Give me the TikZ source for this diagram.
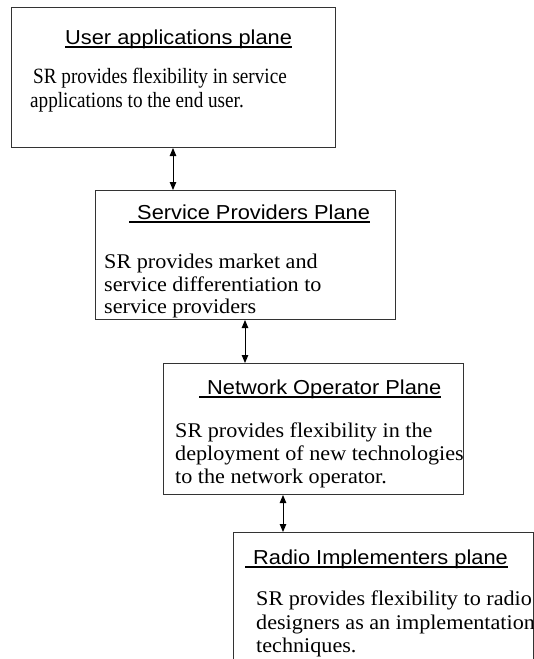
\documentclass[tikz,border=0pt]{standalone}
\usepackage{fontspec}
\setmainfont{Liberation Serif}
\newfontfamily\headfont[FakeStretch=1.08]{Liberation Sans}
\newfontfamily\bodyfont[FakeStretch=1.06]{Liberation Serif}
\newfontfamily\bodynarrow[FakeStretch=0.88]{Liberation Serif}
\usetikzlibrary{arrows.meta}

\begin{document}
\begin{tikzpicture}[x=1pt,y=-1pt,
  plane/.style={draw=black!80, line width=1pt, anchor=north west, inner sep=0pt},
  heading/.style={anchor=base west, inner sep=0pt, font=\headfont\fontsize{20.2}{23}\selectfont},
  bodyline/.style={anchor=base west, inner sep=0pt, font=\bodyfont\fontsize{20.9}{23}\selectfont},
  narrowline/.style={anchor=base west, inner sep=0pt, font=\bodynarrow\fontsize{21.8}{25}\selectfont},
  link/.style={line width=0.9pt, {Triangle[length=8pt,width=6.5pt]}-{Triangle[length=8pt,width=6.5pt]}},
  headrule/.style={line width=1.2pt}
]
\useasboundingbox (0,0) rectangle (534,659);
\clip (0,0) rectangle (534,659);

% the four planes
\node[plane, minimum width=324pt, minimum height=140pt] (b1) at (11,7) {};
\node[plane, minimum width=300pt, minimum height=129pt] (b2) at (95,190) {};
\node[plane, minimum width=300pt, minimum height=131pt] (b3) at (163,363) {};
\node[plane, minimum width=300pt, minimum height=160pt] (b4) at (233,532) {};

% headings
\node[heading] (h1) at (65,44) {User applications plane};
\node[heading] (h2) at (137,219) {Service Providers Plane};
\node[heading] (h3) at (207,394) {Network Operator Plane};
\node[heading] (h4) at (253,564) {Radio Implementers plane};

\draw[headrule] ([yshift=-3pt]h1.base west) -- ([yshift=-3pt]h1.base east);
\draw[headrule] ([xshift=-8pt,yshift=-3pt]h2.base west) -- ([yshift=-3pt]h2.base east);
\draw[headrule] ([xshift=-8pt,yshift=-3pt]h3.base west) -- ([yshift=-3pt]h3.base east);
\draw[headrule] ([xshift=-8pt,yshift=-3pt]h4.base west) -- ([yshift=-3pt]h4.base east);

% descriptions
\node[narrowline] (t11) at (33,83) {SR provides flexibility in service};
\node[narrowline] (t12) at (30,107) {applications to the end user.};

\node[bodyline] (t21) at (104,268) {SR provides market and};
\node[bodyline] (t22) at (104,291) {service differentiation to};
\node[bodyline] (t23) at (104,313) {service providers};

\node[bodyline] (t31) at (175,437) {SR provides flexibility in the};
\node[bodyline] (t32) at (175,460) {deployment of new technologies};
\node[bodyline] (t33) at (175,483) {to the network operator.};

\node[bodyline] (t41) at (256,605) {SR provides flexibility to radio};
\node[bodyline] (t42) at (256,629) {designers as an implementation};
\node[bodyline] (t43) at (256,652) {techniques.};

% links between neighbouring planes
\draw[link] ([xshift=162pt]b1.south west) -- ([xshift=78pt]b2.north west);
\draw[link] ([xshift=150pt]b2.south west) -- ([xshift=82pt]b3.north west);
\draw[link] ([xshift=120pt]b3.south west) -- ([xshift=50pt]b4.north west);
\end{tikzpicture}
\end{document}
